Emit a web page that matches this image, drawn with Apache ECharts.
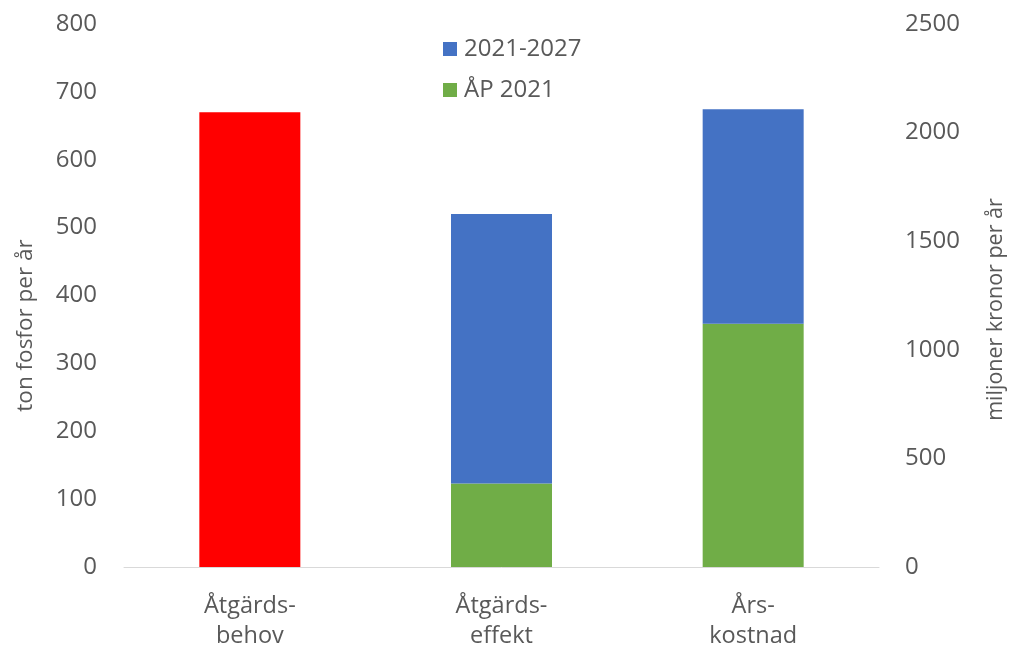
<!DOCTYPE html>
<html>
<head>
<meta charset="utf-8">
<script src="https://cdn.jsdelivr.net/npm/echarts@6/dist/echarts.min.js"></script>
<style>
html,body{margin:0;padding:0;background:#fff;}
#chart{width:1016px;height:662px;}
</style>
</head>
<body>
<div id="chart"></div>
<script>
const categories = ['Åtgärds-\nbehov', 'Åtgärds-\neffekt', 'Års-\nkostnad'];
const behovTon = [670, null, null];
const ap2021Ton = [null, 123, null];
const period2127Ton = [null, 397, null];
const ap2021Kr = [null, null, 1120];
const period2127Kr = [null, null, 987];
const leftTicks = {min: 0, max: 800, interval: 100};
const rightTicks = {min: 0, max: 2500, interval: 500};

const FONT = 'Open Sans';
const TXT = '#595959';
const RED = '#FF0000', BLUE = '#4472C4', GREEN = '#70AD47';
const BW = 101;

const chart = echarts.init(document.getElementById('chart'));
chart.setOption({
  animation: false,
  textStyle: {fontFamily: FONT},
  grid: {left: 124, right: 137, top: 24, bottom: 95, containLabel: false},
  legend: {
    orient: 'vertical', left: 438, top: 30,
    itemWidth: 14, itemHeight: 14, itemGap: 13,
    icon: 'rect',
    data: ['2021-2027', 'ÅP 2021'],
    textStyle: {fontFamily: FONT, fontSize: 24, color: TXT, lineHeight: 28, padding: [0, 0, 0, 2]}
  },
  xAxis: {
    type: 'category', data: categories,
    axisLine: {show: true, lineStyle: {color: '#D9D9D9', width: 1}},
    axisTick: {show: false},
    axisLabel: {fontFamily: FONT, fontSize: 23.5, color: TXT, lineHeight: 30, margin: 24}
  },
  yAxis: [
    {
      type: 'value', position: 'left',
      min: leftTicks.min, max: leftTicks.max, interval: leftTicks.interval,
      name: 'ton fosfor per år', nameLocation: 'middle', nameGap: 87, nameRotate: 90,
      nameTextStyle: {fontFamily: FONT, fontSize: 22.5, color: TXT, padding: [0, 60, 0, 0]},
      axisLine: {show: false}, axisTick: {show: false}, splitLine: {show: false},
      axisLabel: {fontFamily: FONT, fontSize: 24, color: TXT, margin: 27}
    },
    {
      type: 'value', position: 'right',
      min: rightTicks.min, max: rightTicks.max, interval: rightTicks.interval,
      name: 'miljoner kronor per år', nameLocation: 'middle', nameGap: 106, nameRotate: 90,
      nameTextStyle: {fontFamily: FONT, fontSize: 21.5, color: TXT, padding: [0, 28, 0, 0]},
      axisLine: {show: false}, axisTick: {show: false}, splitLine: {show: false},
      axisLabel: {fontFamily: FONT, fontSize: 24, color: TXT, margin: 26, formatter: v => String(v)}
    }
  ],
  series: [
    {name: 'Behov', type: 'bar', yAxisIndex: 0, data: behovTon, barWidth: BW, barGap: '-100%', itemStyle: {color: RED}},
    {name: 'ÅP 2021', type: 'bar', yAxisIndex: 0, stack: 'ton', data: ap2021Ton, barWidth: BW, barGap: '-100%', itemStyle: {color: GREEN}},
    {name: '2021-2027', type: 'bar', yAxisIndex: 0, stack: 'ton', data: period2127Ton, barWidth: BW, barGap: '-100%', itemStyle: {color: BLUE}},
    {name: 'ÅP 2021', type: 'bar', yAxisIndex: 1, stack: 'kr', data: ap2021Kr, barWidth: BW, barGap: '-100%', itemStyle: {color: GREEN}},
    {name: '2021-2027', type: 'bar', yAxisIndex: 1, stack: 'kr', data: period2127Kr, barWidth: BW, barGap: '-100%', itemStyle: {color: BLUE}}
  ]
});
</script>
</body>
</html>
